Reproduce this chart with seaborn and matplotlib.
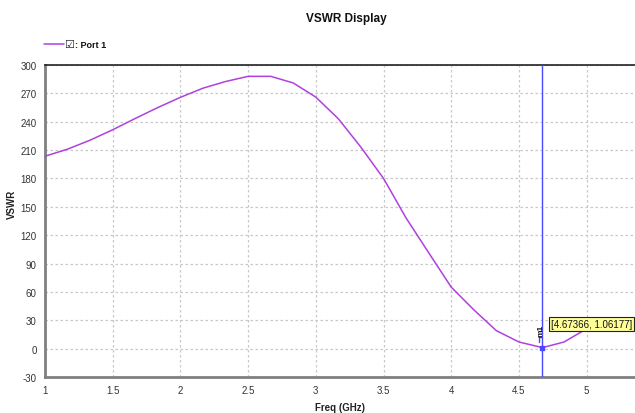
import matplotlib
matplotlib.use("Agg")
import matplotlib.pyplot as plt
from matplotlib.lines import Line2D
import seaborn as sns
import pandas as pd

# Swept frequency points (GHz) and the VSWR trace of Port 1
freq_ghz = [1.000, 1.167, 1.333, 1.500, 1.667, 1.833, 2.000, 2.167, 2.333,
            2.500, 2.667, 2.833, 3.000, 3.167, 3.333, 3.500, 3.667, 3.833,
            4.000, 4.167, 4.333, 4.500, 4.67366, 4.833, 5.000]
vswr = [203.5, 211.0, 220.5, 231.5, 243.5, 255.0, 265.8, 275.5, 282.5,
        288.0, 288.0, 281.0, 266.0, 243.0, 213.0, 180.0, 138.0, 101.5,
        65.0, 41.0, 19.0, 7.0, 1.06177, 7.0, 21.0]

# Marker readout
marker_freq = 4.67366
marker_vswr = 1.06177
marker_name = "m1"

x_ticks = [1, 1.5, 2, 2.5, 3, 3.5, 4, 4.5, 5]
x_tick_labels = ["1", "1.5", "2", "2.5", "3", "3.5", "4", "4.5", "5"]
y_ticks = [-30, 0, 30, 60, 90, 120, 150, 180, 210, 240, 270, 300]

title = "VSWR Display"
series_name = "Port 1"
x_label = "Freq (GHz)"
y_label = "VSWR"

sns.set_style("white")
plt.rcParams["font.family"] = ["Liberation Sans Narrow", "Liberation Sans", "DejaVu Sans"]
plt.rcParams["axes.unicode_minus"] = False

trace_color = "#b040e0"
df = pd.DataFrame({"freq": freq_ghz, "vswr": vswr})

fig = plt.figure(figsize=(6.35, 4.14), dpi=100)
ax = fig.add_axes([0.0709, 0.087, 0.9291, 0.7536])

ax.grid(True, color="#c8c8c8", linestyle=(0, (2, 2)), linewidth=0.9)
sns.lineplot(data=df, x="freq", y="vswr", ax=ax, color=trace_color,
             linewidth=1.1, legend=False, zorder=3)

ax.set_xlim(1, 5.357)
ax.set_ylim(-30, 300)
ax.set_xticks(x_ticks)
ax.set_xticklabels(x_tick_labels)
ax.set_yticks(y_ticks)
ax.tick_params(axis="both", labelsize=7, length=0, pad=6, colors="#333333")

ax.spines["right"].set_visible(False)
ax.spines["top"].set_color("#222222")
ax.spines["top"].set_linewidth(1.2)
for side in ("left", "bottom"):
    ax.spines[side].set_color("#808080")
    ax.spines[side].set_linewidth(2.0)

ax.set_xlabel(x_label, fontsize=7, fontweight="bold", labelpad=5, color="#222222")
ax.set_ylabel(y_label, fontsize=7, fontweight="bold", color="#222222")
ax.yaxis.set_label_coords(-0.047, 0.555)

# Marker: vertical cursor, point and readout box
ax.axvline(marker_freq, color="#4848ff", linewidth=1.0, zorder=4)
ax.plot([marker_freq], [marker_vswr], marker="s", markersize=3,
        color="#4848ff", zorder=5)
ax.plot([marker_freq - 0.025, marker_freq - 0.025, marker_freq],
        [7, 12, 12], color="#4848ff", linewidth=1.0, zorder=5)
ax.text(marker_freq - 0.012, 20, marker_name, rotation=90, fontsize=6,
        fontweight="bold", ha="center", va="center", color="#111111", zorder=6)
ax.text(marker_freq + 0.065, 26, f"[{marker_freq}, {marker_vswr}]",
        fontsize=7, ha="left", va="center", color="#111111", zorder=7,
        bbox=dict(boxstyle="square,pad=0.2", facecolor="#ffff99",
                  edgecolor="#222222", linewidth=0.8))

fig.text(0.545, 0.955, title, fontsize=8.5, fontweight="bold",
         ha="center", va="center", color="#111111")

# Legend entry drawn in figure coordinates
fig.add_artist(Line2D([0.070, 0.100], [0.891, 0.891], color=trace_color,
                      linewidth=1.1, transform=fig.transFigure))
fig.text(0.101, 0.891, "\u2611", fontsize=8, ha="left", va="center",
         color="#222222", family="DejaVu Sans")
fig.text(0.118, 0.891, ": " + series_name, fontsize=6.5, fontweight="bold",
         ha="left", va="center", color="#111111")

fig.savefig("out.png", dpi=100)
